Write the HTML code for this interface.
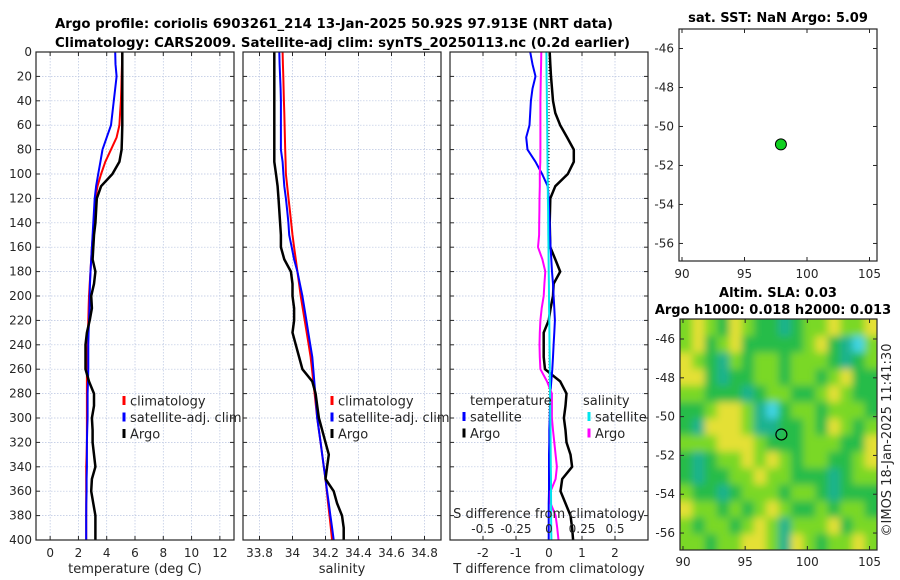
<!DOCTYPE html>
<html><head><meta charset="utf-8"><style>
html,body{margin:0;padding:0;background:#fff;}
svg{display:block;font-family:"DejaVu Sans","Liberation Sans",sans-serif;}
</style></head><body>
<svg id="fig" width="900" height="580" viewBox="0 0 900 580" xmlns="http://www.w3.org/2000/svg">
<defs>
<filter id="blur" filterUnits="userSpaceOnUse" x="660" y="300" width="240" height="270"><feGaussianBlur stdDeviation="4"/></filter>
<clipPath id="mapclip"><rect x="680" y="319" width="197" height="231"/></clipPath>
</defs>
<text x="55" y="28" font-size="13" font-weight="bold" textLength="558" lengthAdjust="spacingAndGlyphs">Argo profile: coriolis 6903261_214 13-Jan-2025 50.92S 97.913E (NRT data)</text>
<text x="55" y="47" font-size="13" font-weight="bold" textLength="575" lengthAdjust="spacingAndGlyphs">Climatology: CARS2009. Satellite-adj clim: synTS_20250113.nc (0.2d earlier)</text>
<g id="g"></g>
</svg>
<script>
// ---- data ----
const depths = [0,10,20,30,40,50,60,70,80,90,100,110,120,130,140,150,160,170,180,190,200,210,220,230,240,250,260,270,280,290,300,310,320,330,340,350,360,370,380,390,400];
const tempClim = [5.1,5.08,5.05,5.03,5.0,4.95,4.9,4.7,4.3,3.9,3.6,3.35,3.2,3.15,3.1,3.02,2.95,2.9,2.85,2.8,2.75,2.72,2.7,2.68,2.65,2.62,2.6,2.6,2.6,2.6,2.6,2.6,2.6,2.58,2.55,2.55,2.55,2.55,2.55,2.55,2.55];
const tempSat = [4.6,4.62,4.7,4.6,4.5,4.4,4.3,4.0,3.7,3.55,3.4,3.25,3.15,3.1,3.05,3.0,2.95,2.9,2.85,2.82,2.8,2.78,2.75,2.72,2.7,2.7,2.7,2.68,2.65,2.65,2.65,2.62,2.6,2.6,2.6,2.58,2.58,2.56,2.55,2.55,2.55];
const tempArgo = [5.1,5.1,5.1,5.1,5.1,5.1,5.1,5.08,5.05,4.9,4.4,3.6,3.3,3.25,3.2,3.1,3.05,3.0,3.2,3.1,2.9,2.95,2.8,2.6,2.5,2.5,2.5,2.75,3.1,3.1,2.95,3.0,3.0,3.1,3.2,2.95,2.9,3.05,3.2,3.2,3.2];
const salClim = [33.94,33.942,33.944,33.946,33.948,33.95,33.952,33.954,33.956,33.958,33.96,33.968,33.976,33.984,33.992,34.0,34.01,34.02,34.03,34.04,34.05,34.062,34.074,34.086,34.098,34.11,34.118,34.126,34.134,34.142,34.15,34.16,34.17,34.18,34.19,34.2,34.208,34.216,34.224,34.232,34.24];
const salSat = [33.92,33.922,33.925,33.928,33.93,33.93,33.93,33.93,33.93,33.94,33.945,33.95,33.96,33.968,33.975,33.98,33.995,34.01,34.03,34.045,34.06,34.072,34.084,34.096,34.108,34.12,34.126,34.132,34.138,34.144,34.15,34.16,34.17,34.18,34.19,34.2,34.21,34.22,34.23,34.24,34.25];
const salArgo = [33.89,33.89,33.89,33.89,33.89,33.89,33.89,33.89,33.89,33.89,33.9,33.91,33.915,33.92,33.925,33.93,33.93,33.95,33.99,34.0,34.0,34.01,34.01,34.0,34.02,34.04,34.06,34.12,34.14,34.15,34.16,34.18,34.2,34.22,34.21,34.2,34.25,34.27,34.3,34.31,34.31];
const dTempSat = [-0.57,-0.5,-0.41,-0.5,-0.55,-0.57,-0.59,-0.69,-0.65,-0.41,-0.21,-0.04,-0.01,0.0,0.02,0.03,0.05,0.07,0.09,0.12,0.14,0.16,0.18,0.16,0.14,0.12,0.1,0.07,0.04,0.03,0.02,0.01,0.01,0.0,0.0,0.0,0.0,-0.01,-0.01,-0.01,-0.01];
const dTempArgo = [0.02,0.04,0.06,0.09,0.12,0.19,0.34,0.55,0.75,0.75,0.57,0.19,0.04,0.03,0.02,0.03,0.04,0.19,0.34,0.14,0.12,0.05,-0.01,-0.16,-0.16,-0.16,-0.12,0.34,0.53,0.5,0.45,0.5,0.53,0.65,0.7,0.4,0.35,0.5,0.65,0.7,0.73];
const dSalSat = [-0.02,-0.019,-0.018,-0.017,-0.016,-0.015,-0.014,-0.013,-0.012,-0.011,-0.01,-0.009,-0.008,-0.007,-0.006,-0.005,-0.004,-0.003,-0.002,-0.001,0.0,0.001,0.002,0.003,0.004,0.005,0.006,0.007,0.008,0.009,0.01,0.011,0.012,0.013,0.014,0.015,0.015,0.016,0.016,0.017,0.018];
const dSalArgo = [-0.058,-0.06,-0.062,-0.064,-0.065,-0.065,-0.065,-0.065,-0.065,-0.066,-0.07,-0.07,-0.072,-0.073,-0.074,-0.075,-0.083,-0.05,-0.028,-0.035,-0.04,-0.055,-0.065,-0.07,-0.072,-0.07,-0.065,-0.015,0.022,0.022,0.022,0.03,0.04,0.05,0.06,0.05,0.012,0.012,0.05,0.062,0.072];
const depthTicks = [0,20,40,60,80,100,120,140,160,180,200,220,240,260,280,300,320,340,360,380,400];
const tempTicks = [0,2,4,6,8,10,12];
const salTicks = [33.8,34,34.2,34.4,34.6,34.8];
const salTickLabels = ["33.8","34","34.2","34.4","34.6","34.8"];
const dTTicks = [-2,-1,0,1,2];
const dSTicks = [-0.5,-0.25,0,0.25,0.5];
const dSTickLabels = ["-0.5","-0.25","0","0.25","0.5"];
const latTicks = [-46,-48,-50,-52,-54,-56];
const lonTicks = [90,95,100,105];
const argoLon = 97.913, argoLat = -50.92;
// SLA field classes (-2 cyan ... 2 yellow), rows north->south
const slaGrid = [
[1,2,1,0,2,1,0,0,-1,0,1,1,2,1,1,2],
[1,2,0,1,2,0,0,0,0,0,1,2,0,-1,-2,1],
[2,1,0,-1,1,0,1,1,0,1,1,1,0,-1,0,1],
[2,2,0,-1,0,0,1,1,0,1,1,0,1,2,0,0],
[1,1,0,0,0,-1,0,1,1,0,0,1,2,1,0,0],
[0,0,1,2,2,1,-1,-2,0,1,1,0,1,1,1,0],
[0,-1,2,2,2,1,-1,-1,0,0,1,0,2,1,0,1],
[1,1,1,2,2,2,1,0,0,0,1,1,1,0,0,2],
[0,-1,0,1,1,2,1,2,1,0,1,1,0,0,1,2],
[0,-1,0,0,1,1,2,1,1,0,0,0,-1,0,1,1],
[1,0,0,-1,0,1,1,1,0,1,1,0,-1,0,0,0],
[2,1,1,0,1,0,1,2,1,0,0,1,0,1,1,0],
[1,0,1,1,0,1,2,1,-1,1,1,1,2,0,1,1],
[1,1,0,1,1,2,2,1,-1,2,1,0,1,1,2,1]];

const NS="http://www.w3.org/2000/svg";
const G=document.getElementById('g');
function el(tag,attrs,parent){const e=document.createElementNS(NS,tag);for(const k in attrs)e.setAttribute(k,attrs[k]);(parent||G).appendChild(e);return e;}
function txt(s,x,y,attrs,parent){const e=el('text',Object.assign({x:x,y:y,'font-size':12,fill:'#262626'},attrs||{}),parent);e.textContent=s;return e;}

const PT=52, PB=540;
const yD = d => PT + (d/400)*(PB-PT);
function lin(d0,d1,r0,r1){return v=>r0+(v-d0)/(d1-d0)*(r1-r0);}

function panel(name,x0,x1,xs,xticks,xlabels,xtitle,showY){
  const gp=el('g',{});
  
  
  el('rect',{x:x0,y:PT,width:x1-x0,height:PB-PT,fill:'#fff'},gp);
  depthTicks.forEach(d=>{el('line',{x1:x0,x2:x1,y1:yD(d),y2:yD(d),stroke:'#b8c4e0','stroke-width':0.7,'stroke-dasharray':'1.5,1.5'},gp);
    el('line',{x1:x0,x2:x0+4,y1:yD(d),y2:yD(d),stroke:'#262626'},gp);
    el('line',{x1:x1-4,x2:x1,y1:yD(d),y2:yD(d),stroke:'#262626'},gp);
    if(showY){const t=txt(String(d),x0-4,yD(d)+4,{'text-anchor':'end'},gp);}
  });
  xticks.forEach((v,i)=>{const X=xs(v);
    el('line',{x1:X,x2:X,y1:PT,y2:PB,stroke:'#b8c4e0','stroke-width':0.7,'stroke-dasharray':'1.5,1.5'},gp);
    el('line',{x1:X,x2:X,y1:PB-4,y2:PB,stroke:'#262626'},gp);
    el('line',{x1:X,x2:X,y1:PT,y2:PT+4,stroke:'#262626'},gp);
    const t=txt(xlabels[i],X,PB+17,{'text-anchor':'middle'},gp);
    
    
  });
  const tt=txt(xtitle,(x0+x1)/2,PB+33,{'text-anchor':'middle','font-size':13},gp);
  
  
  return gp;
}
function series(gp,name,xs,vals,color,w){
  const pts=vals.map((v,i)=>xs(v).toFixed(1)+','+yD(depths[i]).toFixed(1)).join(' ');
  const p=el('polyline',{points:pts,fill:'none',stroke:color,'stroke-width':w||2,'stroke-linejoin':'round'},gp);
  
  
}
function frame(gp,x0,x1){el('rect',{x:x0,y:PT,width:x1-x0,height:PB-PT,fill:'none',stroke:'#262626','stroke-width':1.2},gp);}
function legend(gp,x,y,items){
  items.forEach((it,i)=>{const yy=y+i*16.5;
    el('line',{x1:x,x2:x,y1:yy-5,y2:yy+4,stroke:it[1],'stroke-width':3},gp);
    const t=txt(it[0],x+6,yy+4.5,{'font-size':13},gp);
    
    
  });
}

// Panel 1 temperature
const xT=lin(-1,13,36,234);
const p1=panel('temperature-panel',36,234,xT,tempTicks,tempTicks.map(String),'temperature (deg C)',true);
series(p1,'temp-climatology-line',xT,tempClim,'#ff0000');
series(p1,'temp-satellite-line',xT,tempSat,'#0000ff');
series(p1,'temp-argo-line',xT,tempArgo,'#000000',2.5);
legend(p1,124,401,[['climatology','#ff0000'],['satellite-adj. clim','#0000ff'],['Argo','#000']]);
frame(p1,36,234);

// Panel 2 salinity
const xS=lin(33.7,34.9,243,441);
const p2=panel('salinity-panel',243,441,xS,salTicks,salTickLabels,'salinity',false);
series(p2,'sal-climatology-line',xS,salClim,'#ff0000');
series(p2,'sal-satellite-line',xS,salSat,'#0000ff');
series(p2,'sal-argo-line',xS,salArgo,'#000000',2.5);
legend(p2,332,401,[['climatology','#ff0000'],['satellite-adj. clim','#0000ff'],['Argo','#000']]);
frame(p2,243,441);

// Panel 3 differences
const xDT=lin(-3,3,450,648);
const xDS=lin(-0.75,0.75,450,648);
const p3=panel('difference-panel',450,648,xDT,dTTicks,dTTicks.map(String),'T difference from climatology',false);
el('line',{x1:xDT(0),x2:xDT(0),y1:PT,y2:PB,stroke:'#000','stroke-width':1,'stroke-dasharray':'1,2'},p3);
series(p3,'temp-argo-diff-line',xDT,dTempArgo,'#000000',2.5);
series(p3,'temp-satellite-diff-line',xDT,dTempSat,'#0000ff');
series(p3,'sal-argo-diff-line',xDS,dSalArgo,'#ff00ff');
series(p3,'sal-satellite-diff-line',xDS,dSalSat,'#00e5ee');
dSTicks.forEach((v,i)=>{const t=txt(dSTickLabels[i],xDS(v),533,{'text-anchor':'middle','font-size':12},p3);});
{const t=txt('S difference from climatology',549,518,{'text-anchor':'middle','font-size':13},p3);}
{const t=txt('temperature',470,405,{'font-size':13},p3);}
{const t=txt('salinity',583,405,{'font-size':13},p3);}
legend(p3,464,417,[['satellite','#0000ff'],['Argo','#000']]);
legend(p3,589,417,[['satellite','#00e5ee'],['Argo','#ff00ff']]);
frame(p3,450,648);

// Maps
function mapAxes(gp,x0,y0,x1,y1,lonF,latF,xlabY){
  latTicks.forEach(v=>{const Y=latF(v);
    el('line',{x1:x0,x2:x0+4,y1:Y,y2:Y,stroke:'#262626'},gp);
    el('line',{x1:x1-4,x2:x1,y1:Y,y2:Y,stroke:'#262626'},gp);
    const t=txt(String(v),x0-5,Y+4,{'text-anchor':'end'},gp);});
  lonTicks.forEach(v=>{const X=lonF(v);
    el('line',{x1:X,x2:X,y1:y1-4,y2:y1,stroke:'#262626'},gp);
    el('line',{x1:X,x2:X,y1:y0,y2:y0+4,stroke:'#262626'},gp);
    const t=txt(String(v),X,xlabY,{'text-anchor':'middle'},gp);});
  el('rect',{x:x0,y:y0,width:x1-x0,height:y1-y0,fill:'none',stroke:'#262626','stroke-width':1.2},gp);
}
// top map
const m1=el('g',{});


const lon1=lin(89.76,105.6,679,877), lat1=lin(-45,-56.9,29,261);
el('rect',{x:679,y:29,width:198,height:232,fill:'#fff'},m1);
{const t=txt('sat. SST: NaN Argo: 5.09',778,22,{'text-anchor':'middle','font-size':13,'font-weight':'bold',fill:'#000'},m1);}
{const c=el('circle',{cx:lon1(argoLon),cy:lat1(argoLat),r:5.5,fill:'#10d020',stroke:'#000','stroke-width':1},m1);}
mapAxes(m1,679,29,877,261,lon1,lat1,278);

// bottom map
const m2=el('g',{});


const lon2=lin(89.76,105.6,680,877), lat2=lin(-45,-56.9,319.6,550.5);
const colors={'-2':'#40d4e4','-1':'#1eb28e','0':'#26bc48','1':'#7ad826','2':'#e4e036'};
const hm=el('g',{'clip-path':'url(#mapclip)'},m2);
const hmb=el('g',{filter:'url(#blur)'},hm);
const nr=slaGrid.length,nc=slaGrid[0].length;
const lonStep=(105.6-89.76)/nc, latStep=(56.9-45)/nr;
el('rect',{x:670,y:310,width:220,height:250,fill:'#26bc48'},hmb);
slaGrid.forEach((row,r)=>row.forEach((v,c)=>{
  const xa=lon2(89.76+c*lonStep), xb=lon2(89.76+(c+1)*lonStep);
  const ya=lat2(-45-r*latStep), yb=lat2(-45-(r+1)*latStep);
  const cell=el('rect',{x:xa-(c==0?8:0),y:ya-(r==0?8:0),width:xb-xa+0.6+(c==0||c==nc-1?8:0),height:yb-ya+0.6+(r==0||r==nr-1?8:0),fill:colors[String(v)]},hmb);
  
  
}));
{const c=el('circle',{cx:lon2(argoLon),cy:lat2(argoLat),r:5.5,fill:'none',stroke:'#000','stroke-width':1.2},m2);}
mapAxes(m2,680,319,877,550,lon2,lat2,566);
{const t=txt('Altim. SLA: 0.03',778,297,{'text-anchor':'middle','font-size':13,'font-weight':'bold',fill:'#000'},m2);}
{const t=txt('Argo h1000: 0.018 h2000: 0.013',773,314,{'text-anchor':'middle','font-size':13,'font-weight':'bold',fill:'#000'},m2);}
{const t=txt('©IMOS 18-Jan-2025 11:41:30',0,0,{'text-anchor':'middle','font-size':13,transform:'translate(891,440) rotate(-90)'});}
</script>
</body></html>
